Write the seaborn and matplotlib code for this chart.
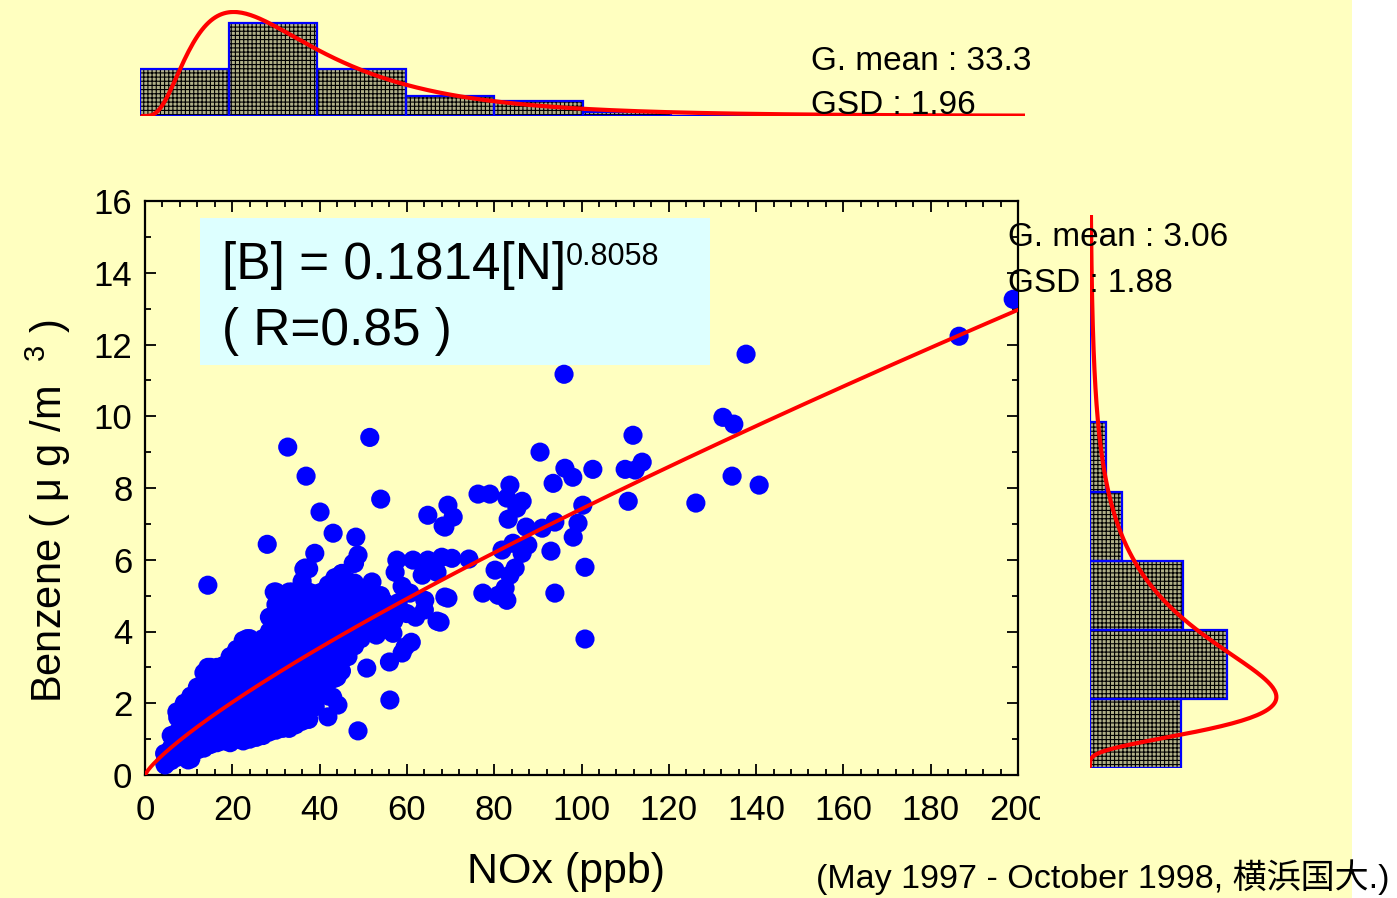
import numpy as np
import pandas as pd
import matplotlib
matplotlib.use("Agg")
import matplotlib.pyplot as plt
from matplotlib.patches import Rectangle
from matplotlib.ticker import MultipleLocator
import seaborn as sns

# --- dati ---
# punti isolati (NOx ppb, benzene ug/m3)
outlier_points = [
    (198.9, 13.26), (186.5, 12.23), (137.7, 11.73), (96.0, 11.17), (132.4, 9.97),
    (134.9, 9.78), (111.8, 9.47), (32.7, 9.14), (51.5, 9.41), (90.5, 9.0),
    (113.9, 8.72), (112.3, 8.5), (110.0, 8.52), (102.6, 8.52), (96.2, 8.55),
    (98.0, 8.3), (134.5, 8.33), (140.7, 8.08), (36.9, 8.33), (93.5, 8.13),
    (83.6, 8.08), (76.3, 7.83), (79.0, 7.83), (82.9, 7.72), (86.4, 7.63),
    (85.2, 7.44), (83.2, 7.13), (110.7, 7.63), (126.2, 7.58), (100.3, 7.52),
    (54.0, 7.69), (40.1, 7.33), (69.4, 7.52), (70.6, 7.19), (64.8, 7.24),
    (68.7, 6.91), (68.3, 6.94), (87.3, 6.91), (91.0, 6.88), (93.9, 7.05),
    (99.2, 7.02), (98.1, 6.63), (43.1, 6.74), (48.3, 6.63), (28.0, 6.43),
    (81.8, 6.27), (84.3, 6.46), (87.7, 6.41), (86.4, 6.18), (93.0, 6.24),
    (38.9, 6.18), (48.8, 6.13), (68.0, 6.07), (70.3, 6.04), (74.2, 6.02),
    (57.7, 5.99), (61.4, 5.99), (64.8, 5.99), (36.4, 5.74), (47.7, 5.9),
    (45.1, 5.62), (42.2, 5.26), (52.0, 5.38), (14.4, 5.29), (57.3, 5.65),
    (63.5, 5.57), (66.9, 5.65), (80.2, 5.71), (83.6, 5.57), (84.8, 5.77),
    (100.8, 5.79), (77.4, 5.07), (82.5, 5.21), (82.9, 4.87), (80.9, 5.01),
    (93.9, 5.07), (68.7, 4.96), (58.9, 5.26), (64.1, 4.87), (60.7, 5.07),
    (69.4, 4.93), (67.6, 4.26), (66.9, 4.29), (100.8, 3.79), (61.0, 3.7),
    (59.6, 3.57), (58.9, 3.4), (56.8, 3.95), (55.4, 4.12), (56.0, 3.15),
    (50.8, 2.98), (56.1, 2.09), (48.8, 1.23), (44.0, 2.73), (43.0, 2.17),
    (44.2, 1.95), (41.9, 1.62), (41.7, 2.92), (29.6, 5.1), (33.7, 5.1),
    (36.7, 5.77), (14.4, 3.0), (18.3, 3.06), (23.4, 3.8), (26.8, 3.76),
    (7.3, 1.76), (4.6, 0.28), (9.9, 0.42), (60.0, 4.5), (62.0, 4.4),
    (58.0, 4.8), (54.0, 5.0), (64.0, 4.6),
]

# nuvola densa: NOx -> valori di benzene letti per colonna
dense_columns = {
    4.5: [0.35, 0.6],
    6: [0.4, 0.75, 1.1],
    7.5: [0.5, 0.85, 1.2, 1.6],
    9: [0.5, 0.9, 1.3, 1.65, 2.0],
    10.5: [0.45, 0.8, 1.15, 1.5, 1.85, 2.2],
    12: [0.7, 1.05, 1.4, 1.75, 2.1, 2.45],
    13.5: [0.75, 1.1, 1.45, 1.8, 2.15, 2.5, 2.85],
    15: [0.85, 1.2, 1.55, 1.9, 2.25, 2.6, 3.0],
    16.5: [0.9, 1.25, 1.6, 1.95, 2.3, 2.65, 3.0],
    18: [0.95, 1.3, 1.65, 2.0, 2.35, 2.7, 3.05],
    19.5: [0.9, 1.25, 1.6, 1.95, 2.3, 2.65, 3.0, 3.3],
    21: [1.0, 1.35, 1.7, 2.05, 2.4, 2.75, 3.1, 3.5],
    22.5: [0.95, 1.3, 1.65, 2.0, 2.35, 2.7, 3.05, 3.4, 3.75],
    24: [1.0, 1.4, 1.75, 2.1, 2.45, 2.8, 3.15, 3.5, 3.8],
    25.5: [1.05, 1.4, 1.8, 2.15, 2.5, 2.85, 3.2, 3.55],
    27: [1.1, 1.45, 1.8, 2.2, 2.55, 2.9, 3.25, 3.6, 3.8],
    28.5: [1.2, 1.55, 1.9, 2.25, 2.6, 2.95, 3.3, 3.65, 4.0, 4.4],
    30: [1.25, 1.6, 1.95, 2.3, 2.65, 3.0, 3.35, 3.7, 4.05, 4.4, 4.75, 5.1],
    31.5: [1.3, 1.65, 2.0, 2.35, 2.7, 3.05, 3.4, 3.75, 4.1, 4.45, 4.8],
    33: [1.3, 1.7, 2.05, 2.4, 2.75, 3.1, 3.45, 3.8, 4.15, 4.5, 4.85, 5.1],
    34.5: [1.4, 1.75, 2.1, 2.45, 2.8, 3.15, 3.5, 3.85, 4.2, 4.55, 4.9],
    36: [1.5, 1.85, 2.2, 2.55, 2.9, 3.25, 3.6, 3.95, 4.3, 4.65, 5.0, 5.4],
    37.5: [1.55, 1.9, 2.3, 2.65, 3.0, 3.35, 3.7, 4.05, 4.4, 4.75, 5.1, 5.75],
    39: [1.9, 2.25, 2.6, 2.95, 3.3, 3.65, 4.0, 4.35, 4.7, 5.05],
    40.5: [2.3, 2.65, 3.0, 3.35, 3.7, 4.05, 4.4, 4.75, 5.1],
    42: [2.2, 2.6, 2.95, 3.3, 3.65, 4.0, 4.35, 4.7, 5.05, 5.3],
    43.5: [2.7, 3.05, 3.4, 3.75, 4.1, 4.45, 4.8, 5.15, 5.5],
    45: [2.9, 3.25, 3.6, 3.95, 4.3, 4.65, 5.0, 5.35, 5.6],
    46.5: [3.3, 3.65, 4.0, 4.35, 4.7, 5.05, 5.4],
    48: [3.6, 3.95, 4.3, 4.65, 5.0, 5.35, 5.9],
    49.5: [3.8, 4.15, 4.5, 4.85, 5.2],
    51: [4.0, 4.35, 4.7, 5.0],
    53: [3.9, 4.3, 4.6],
    55: [4.1, 4.5, 4.8],
    57: [4.3, 4.6],
}

# istogramma NOx (frequenza %, classi da 20 ppb)
nox_bin_edges = [0, 20, 40, 60, 80, 100, 120, 140, 160, 180, 200]
nox_freq = [20.2, 39.9, 20.2, 8.6, 6.4, 1.7, 0, 0, 0, 0]
nox_gmean, nox_gsd = 33.3, 1.96

# istogramma benzene (frequenza %, classi da 2 ug/m3)
benz_bin_edges = [0, 2, 4, 6, 8, 10, 12, 14, 16]
benz_freq = [24.6, 37.0, 25.1, 8.6, 4.3, 0, 0, 0]
benz_gmean, benz_gsd = 3.06, 1.88

# regressione [B] = a [N]^b
fit_a, fit_b, fit_r = 0.1814, 0.8058, 0.85

YELLOW = "#FFFFC0"
BLUE = "#0000FF"
RED = "#FF0000"
HIST_FACE = "#b0b088"

nox = [p[0] for p in outlier_points]
benz = [p[1] for p in outlier_points]
for n_val, b_list in dense_columns.items():
    for b_val in b_list:
        nox.append(n_val)
        benz.append(b_val)
df = pd.DataFrame({"nox": nox, "benzene": benz})


def lognorm_pct(x, gmean, gsd, width):
    mu, s = np.log(gmean), np.log(gsd)
    pdf = np.exp(-(np.log(x) - mu) ** 2 / (2 * s ** 2)) / (x * s * np.sqrt(2 * np.pi))
    return pdf * width * 100


sns.set_theme(style="ticks")
plt.rcParams['font.family'] = ['Liberation Sans', 'Noto Sans CJK JP', 'DejaVu Sans']
plt.rcParams['mathtext.fontset'] = 'custom'
plt.rcParams['mathtext.rm'] = 'Liberation Sans'
plt.rcParams['hatch.linewidth'] = 0.8
for k in ['text.color', 'axes.labelcolor', 'xtick.color', 'ytick.color', 'axes.edgecolor']:
    plt.rcParams[k] = 'black'

W, H = 1397, 898
fig = plt.figure(figsize=(W / 100, H / 100), dpi=100)
fig.patch.set_facecolor("white")
fig.add_artist(Rectangle((0, 0), 1352 / W, 1, transform=fig.transFigure,
                         facecolor=YELLOW, edgecolor="none", zorder=-10))


def px_axes(x0, y0, x1, y1):
    # coordinate in pixel (origine in alto a sinistra)
    return fig.add_axes([x0 / W, 1 - y1 / H, (x1 - x0) / W, (y1 - y0) / H])


# --- scatter principale ---
ax = px_axes(145, 201, 1018, 775)
ax.set_facecolor("none")
sns.scatterplot(data=df, x="nox", y="benzene", ax=ax, color=BLUE, s=190,
                edgecolor="none", linewidth=0, zorder=3)
fit_x = np.linspace(0, 200, 300)
sns.lineplot(x=fit_x, y=fit_a * fit_x ** fit_b, ax=ax, color=RED, lw=2.8, zorder=4)
ax.set_xlim(0, 200)
ax.set_ylim(0, 16)
ax.set_xticks(range(0, 201, 20))
ax.set_yticks(range(0, 17, 2))
ax.xaxis.set_minor_locator(MultipleLocator(4))
ax.yaxis.set_minor_locator(MultipleLocator(1))
ax.tick_params(which="both", direction="in", top=True, right=True, width=1.3, colors="black")
ax.tick_params(which="major", length=8)
ax.tick_params(which="minor", length=4.5)
ax.tick_params(axis="x", labelsize=25, pad=14)
ax.tick_params(axis="y", labelsize=25, pad=9)
for sp in ax.spines.values():
    sp.set_linewidth(1.6)
    sp.set_color("black")
ax.set_xlabel("NOx (ppb)", fontsize=31)
ax.xaxis.set_label_coords(0.482, -0.135)
ax.set_ylabel("Benzene ( μ g /m  $^{3}$ )", fontsize=30)
ax.yaxis.set_label_coords(-0.082, 0.46)

# riquadro equazione
ax.add_patch(Rectangle((0.063, 0.714), 0.584, 0.256, transform=ax.transAxes,
                       facecolor="#DDFFFF", edgecolor="none", zorder=1))
t_eq = ax.text(0.088, 0.888, f"[B] = {fit_a}[N]", transform=ax.transAxes,
               fontsize=37, va="center", ha="left", zorder=5)
ax.annotate(f"{fit_b}", xy=(1.0, 0.97), xycoords=t_eq, fontsize=22,
            va="top", ha="left", zorder=5)
ax.text(0.088, 0.772, f"( R={fit_r} )", transform=ax.transAxes,
        fontsize=37, va="center", ha="left", zorder=5)

# --- istogramma NOx (in alto) ---
ax_top = px_axes(140, 10, 1025, 116)
ax_top.set_facecolor("none")
nox_centers = [(a + b) / 2 for a, b in zip(nox_bin_edges[:-1], nox_bin_edges[1:])]
sns.histplot(x=nox_centers, weights=nox_freq, bins=nox_bin_edges, ax=ax_top,
             color=HIST_FACE, edgecolor="black", linewidth=0, hatch="++++", alpha=1)
sns.histplot(x=nox_centers, weights=nox_freq, bins=nox_bin_edges, ax=ax_top,
             fill=False, color=BLUE, linewidth=1.6)
nx = np.linspace(0.5, 200, 400)
sns.lineplot(x=nx, y=lognorm_pct(nx, nox_gmean, nox_gsd, 20), ax=ax_top, color=RED, lw=3)
ax_top.set_xlim(0, 200)
ax_top.set_ylim(0, 45.5)
ax_top.axis("off")

# --- istogramma benzene (a destra) ---
ax_r = px_axes(1090, 215, 1300, 768)
ax_r.set_facecolor("none")
benz_centers = [(a + b) / 2 for a, b in zip(benz_bin_edges[:-1], benz_bin_edges[1:])]
sns.histplot(y=benz_centers, weights=benz_freq, bins=benz_bin_edges, ax=ax_r,
             color=HIST_FACE, edgecolor="black", linewidth=0, hatch="++++", alpha=1)
sns.histplot(y=benz_centers, weights=benz_freq, bins=benz_bin_edges, ax=ax_r,
             fill=False, color=BLUE, linewidth=1.6)
by = np.linspace(0.05, 16, 400)
sns.lineplot(x=lognorm_pct(by, benz_gmean, benz_gsd, 2), y=by, ax=ax_r,
             color=RED, lw=3, sort=False, orient="y")
ax_r.set_xlim(0, 56.8)
ax_r.set_ylim(0, 16)
ax_r.axis("off")

# maschera che taglia l'etichetta "200" come nell'originale
fig.add_artist(Rectangle((1040 / W, 1 - 832 / H), 50 / W, 44 / H, transform=fig.transFigure,
                         facecolor=YELLOW, edgecolor="none", zorder=5))

# testi statistiche
fig.text(811 / W, 1 - 62 / H, f"G. mean : {nox_gmean}", fontsize=24, va="center", ha="left", zorder=6)
fig.text(811 / W, 1 - 105 / H, f"GSD : {nox_gsd}", fontsize=24, va="center", ha="left", zorder=6)
fig.text(1008 / W, 1 - 238 / H, f"G. mean : {benz_gmean}", fontsize=24, va="center", ha="left", zorder=6)
fig.text(1008 / W, 1 - 283 / H, f"GSD : {benz_gsd}", fontsize=24, va="center", ha="left", zorder=6)

fig.text(1390 / W, 1 - 877 / H, "(May 1997 - October 1998, 横浜国大.)", fontsize=24.5,
         va="center", ha="right", zorder=6)

fig.savefig("out.png", dpi=100, facecolor=fig.get_facecolor())
